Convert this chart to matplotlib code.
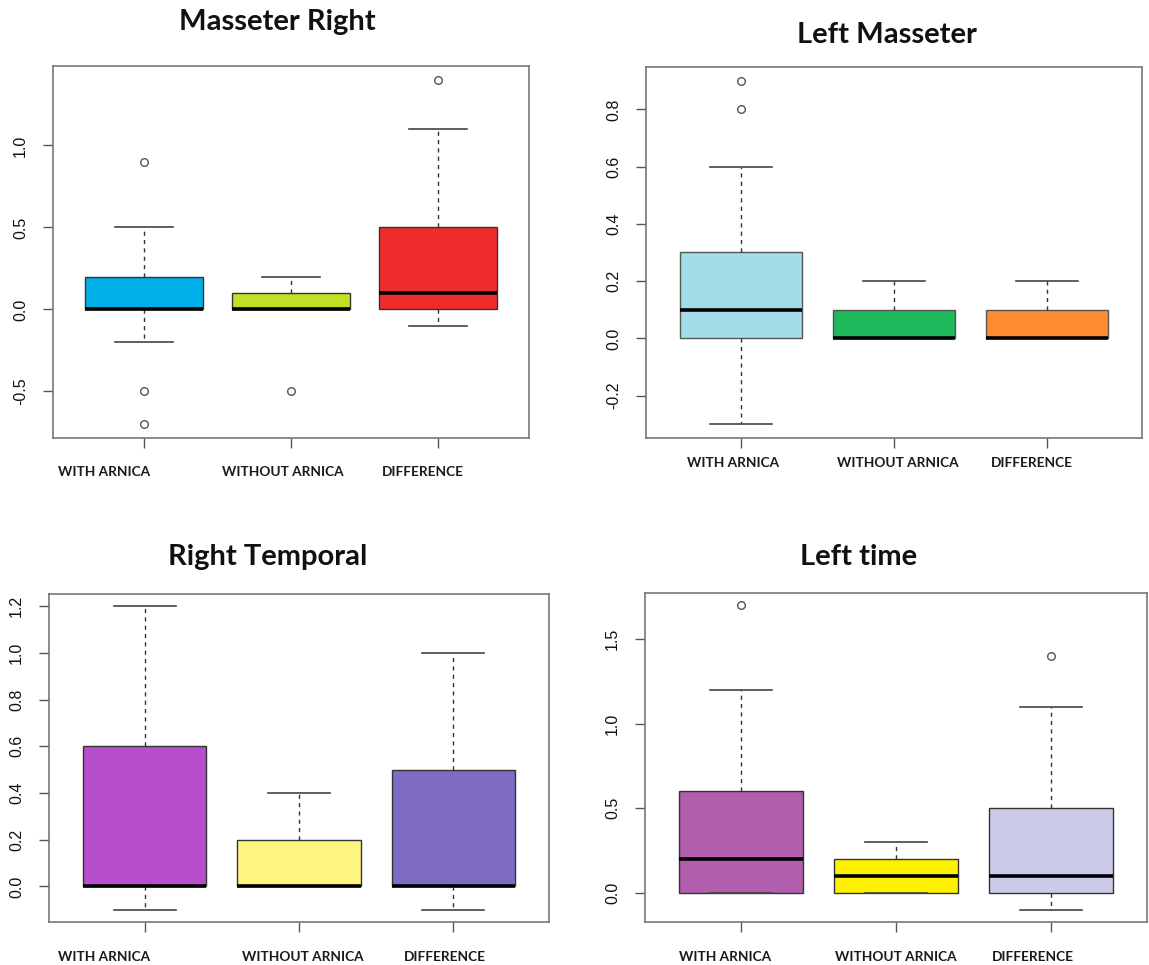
import matplotlib
matplotlib.use('Agg')
import matplotlib.pyplot as plt
from matplotlib.ticker import FormatStrFormatter

# groupuud
groups = ["WITH ARNICA", "WITHOUT ARNICA", "DIFFERENCE"]
titles = ["Masseter Right", "Left Masseter", "Right Temporal", "Left time"]

# box statistik: q1, median, q3, whisker low/high, outliers
mr_q1 = [0.0, 0.0, 0.0]
mr_med = [0.0, 0.0, 0.1]
mr_q3 = [0.2, 0.1, 0.5]
mr_lo = [-0.2, 0.0, -0.1]
mr_hi = [0.5, 0.2, 1.1]
mr_out = [[0.9, -0.5, -0.7], [-0.5], [1.4]]

lm_q1 = [0.0, 0.0, 0.0]
lm_med = [0.1, 0.0, 0.0]
lm_q3 = [0.3, 0.1, 0.1]
lm_lo = [-0.3, 0.0, 0.0]
lm_hi = [0.6, 0.2, 0.2]
lm_out = [[0.8, 0.9], [], []]

rt_q1 = [0.0, 0.0, 0.0]
rt_med = [0.0, 0.0, 0.0]
rt_q3 = [0.6, 0.2, 0.5]
rt_lo = [-0.1, 0.0, -0.1]
rt_hi = [1.2, 0.4, 1.0]
rt_out = [[], [], []]

lt_q1 = [0.0, 0.0, 0.0]
lt_med = [0.2, 0.1, 0.1]
lt_q3 = [0.6, 0.2, 0.5]
lt_lo = [0.0, 0.0, -0.1]
lt_hi = [1.2, 0.3, 1.1]
lt_out = [[1.7], [], [1.4]]

yticks = [[-0.5, 0.0, 0.5, 1.0],
          [-0.2, 0.0, 0.2, 0.4, 0.6, 0.8],
          [0.0, 0.2, 0.4, 0.6, 0.8, 1.0, 1.2],
          [0.0, 0.5, 1.0, 1.5]]

colors = [["#00B0E8", "#C2E024", "#EE2C2C"],
          ["#A4DDEA", "#1DB95A", "#FF8C2E"],
          ["#B74ECB", "#FFF581", "#7F6AC4"],
          ["#B05EAD", "#FFF000", "#CDCBEA"]]

panels = [
    (mr_q1, mr_med, mr_q3, mr_lo, mr_hi, mr_out),
    (lm_q1, lm_med, lm_q3, lm_lo, lm_hi, lm_out),
    (rt_q1, rt_med, rt_q3, rt_lo, rt_hi, rt_out),
    (lt_q1, lt_med, lt_q3, lt_lo, lt_hi, lt_out),
]

W, H = 1149, 965
# axes bokhs pixel: x0, y0(top), x1, y1(bottom)
boxes_px = [(53, 66, 529, 438), (646, 67, 1142, 438),
            (49, 594, 549, 922), (645, 593, 1147, 922)]
title_px = [(277, 22), (887, 35), (268, 557), (859, 557)]
label_px = [([104, 283, 423], 472), ([733, 898, 1032], 463),
            ([104, 303, 445], 957), ([725, 896, 1033], 957)]

fig = plt.figure(figsize=(W / 100, H / 100), dpi=100)

for i, (q1, med, q3, lo, hi, out) in enumerate(panels):
    x0, y0, x1, y1 = boxes_px[i]
    ax = fig.add_axes([x0 / W, 1 - y1 / H, (x1 - x0) / W, (y1 - y0) / H])

    stats = []
    for k in range(3):
        stats.append(dict(q1=q1[k], med=med[k], q3=q3[k],
                          whislo=lo[k], whishi=hi[k], fliers=out[k]))

    edge = "#555555" if i == 1 else "#333333"
    bp = ax.bxp(stats, positions=[1, 2, 3], widths=0.8, capwidths=0.4,
                patch_artist=True, showfliers=True,
                boxprops=dict(edgecolor=edge, linewidth=1.0),
                medianprops=dict(color="black", linewidth=2.6),
                whiskerprops=dict(color="#333333", linewidth=1.0,
                                  linestyle=(0, (3, 3))),
                capprops=dict(color="#444444", linewidth=1.2),
                flierprops=dict(marker="o", markerfacecolor="none",
                                markeredgecolor="#555555", markersize=5.5,
                                markeredgewidth=1.0))
    for patch, c in zip(bp["boxes"], colors[i]):
        patch.set_facecolor(c)

    # R shig 4%-iin zai
    vals = lo + hi
    for o in out:
        vals = vals + o
    vmin, vmax = min(vals), max(vals)
    pad = (vmax - vmin) * 0.04
    ax.set_ylim(vmin - pad, vmax + pad)
    ax.set_xlim(0.38, 3.62)

    ax.set_yticks(yticks[i])
    ax.yaxis.set_major_formatter(FormatStrFormatter("%.1f"))
    ax.set_xticks([1, 2, 3])
    ax.set_xticklabels([])
    ax.tick_params(axis="y", labelrotation=90, length=7, width=1,
                   color="#555555", pad=11, labelsize=11.5,
                   labelcolor="#111111")
    ax.tick_params(axis="x", length=7, width=1, color="#555555")
    for lab in ax.get_yticklabels():
        lab.set_fontfamily("Liberation Sans")
        lab.set_verticalalignment("center")
    for sp in ax.spines.values():
        sp.set_color("#777777")
        sp.set_linewidth(1.2)

    tx, ty = title_px[i]
    fig.text(tx / W, 1 - ty / H, titles[i], ha="center", va="center",
             fontsize=21, fontweight="bold", family="Lato", color="#111111")

    xs, ly = label_px[i]
    for g, lx in zip(groups, xs):
        fig.text(lx / W, 1 - ly / H, g, ha="center", va="center",
                 fontsize=9.8, fontweight="bold", family="Lato",
                 color="#1a1a1a")

plt.savefig("out.png", dpi=100)
